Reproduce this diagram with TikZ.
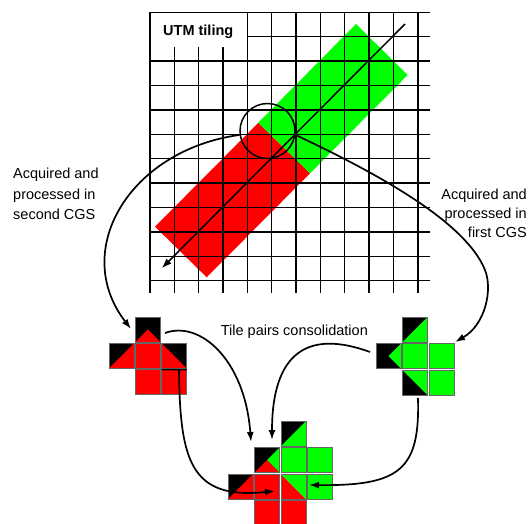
\documentclass[tikz,border=0pt]{standalone}
\usepackage{fontspec}
\setmainfont{Liberation Sans}
\usetikzlibrary{arrows.meta}
\definecolor{tred}{RGB}{255,0,0}
\definecolor{tgreen}{RGB}{0,255,0}
\newcommand{\tileat}[3]{\begin{scope}[shift={(#1,#2)}]#3\draw[tileedge] (0,0) rectangle (25,25);\end{scope}}
\newcommand{\tlRf}{\fill[tred] (0,0) rectangle (25,25);}
\newcommand{\tlGf}{\fill[tgreen] (0,0) rectangle (25,25);}
\newcommand{\tlBlk}{\fill[black] (0,0) rectangle (25,25);}
\begin{document}
\begin{tikzpicture}[x=1pt,y=-1pt,
  gridline/.style={line width=1.35pt},
  curve/.style={line width=1.7pt,-{Latex[length=10pt,width=7pt]}},
  tileedge/.style={draw=black!60,line width=0.8pt},
  lbl/.style={font=\fontsize{14.5}{20.5}\selectfont,inner sep=0pt}]
\useasboundingbox (0,0) rectangle (528,523);
\fill[white] (0,0) rectangle (528,523);
% strip
\coordinate (L) at (155,226.7);
\coordinate (T) at (356,24);
\coordinate (R) at (407.7,75);
\coordinate (B) at (206.7,277.3);
\coordinate (S1) at (258.3,122.7);
\coordinate (S2) at (310,173.3);
\fill[tred] (L) -- (S1) -- (S2) -- (B) -- cycle;
\fill[tgreen] (S1) -- (T) -- (R) -- (S2) -- cycle;
% grid
\foreach \k in {0,...,11} \draw[gridline] ({150+24.35*\k},12) -- ({150+24.35*\k},293);
\foreach \k in {0,...,11} \draw[gridline] (150,{12.3+24.4*\k}) -- (430,{12.3+24.4*\k});
% title box
\fill[white] (150.9,13) rectangle (246.5,46.5);
\node[lbl,font=\bfseries\fontsize{14.5}{17}\selectfont,anchor=north west] (title) at (163,25) {UTM tiling};
% axis
\coordinate (axtop) at (405,24);
\coordinate (axbot) at (161.7,268.3);
\draw[line width=1.5pt,-{Latex[length=10pt,width=7pt]}] (axtop) -- (axbot);
% ring
\node[draw,circle,line width=1.5pt,inner sep=0pt,minimum size=55pt] (ring) at (267.5,131) {};
\coordinate (redin) at (131,329);
\coordinate (grnin) at (455,342);
\draw[curve] (ring.188) .. controls (130,150) and (70,250) .. (redin);
\draw[curve] (ring.352) .. controls (370,170) and (465,220) .. (485,270) .. controls (493,290) and (485,325) .. (grnin);
% labels
\node[lbl,align=left,anchor=north west] (lefttxt) at (13,168) {Acquired and\\processed in\\second CGS};
\node[lbl,align=right,anchor=north east,font=\fontsize{14.5}{19}\selectfont] (righttxt) at (527,188.5) {Acquired and\\processed in\\first CGS};
\node[lbl,anchor=north west] (cons) at (220.7,325) {Tile pairs consolidation};
% red group
\tileat{135.3}{317}{\tlBlk\fill[tred] (0,25)--(12.5,12.5)--(25,25)--cycle;}
\tileat{109}{343.3}{\tlBlk\fill[tred] (0,25)--(25,0)--(25,25)--cycle;}
\tileat{135.3}{343.3}{\tlRf}
\tileat{161.6}{343.3}{\tlBlk\fill[tred] (0,0)--(25,25)--(0,25)--cycle;}
\tileat{135.3}{369.6}{\tlRf}
\tileat{161.6}{369.6}{\tlRf}
% green group
\tileat{402.5}{317}{\tlBlk\fill[tgreen] (0,25)--(25,0)--(25,25)--cycle;}
\tileat{376}{343.5}{\tlBlk\fill[tgreen] (25,0)--(12.5,12.5)--(25,25)--cycle;}
\tileat{402.5}{343.5}{\tlGf}
\tileat{429}{343.5}{\tlGf}
\tileat{402.5}{370}{\tlBlk\fill[tgreen] (0,0)--(25,0)--(25,25)--cycle;}
\tileat{429}{370}{\tlGf}
% consolidated group
\tileat{281}{421}{\tlBlk\fill[tgreen] (0,25)--(25,0)--(25,25)--cycle;}
\tileat{254.5}{447.5}{\tlBlk\fill[tgreen] (12.5,12.5)--(25,0)--(25,25)--cycle;\fill[tred] (0,25)--(12.5,12.5)--(25,25)--cycle;}
\tileat{281}{447.5}{\tlGf}
\tileat{307.5}{447.5}{\tlGf}
\tileat{228}{474}{\tlBlk\fill[tred] (0,25)--(25,0)--(25,25)--cycle;}
\tileat{254.5}{474}{\tlRf}
\tileat{281}{474}{\fill[tred] (0,0)--(25,25)--(0,25)--cycle;\fill[tgreen] (0,0)--(25,0)--(25,25)--cycle;}
\tileat{307.5}{474}{\tlGf}
\tileat{254.5}{500.5}{\tlRf}
\tileat{281}{500.5}{\tlRf}
% consolidation arrows
\coordinate (aS) at (165,333); \coordinate (aE) at (251,442);
\draw[curve] (aS) .. controls (200,320) and (245,360) .. (aE);
\coordinate (bS) at (370,352); \coordinate (bE) at (272,440);
\draw[curve] (bS) .. controls (310,330) and (272,350) .. (bE);
\coordinate (cL) at (161.6,369.6); \coordinate (cR) at (186.6,369.6);
\coordinate (cM) at (179,369.6); \coordinate (cE) at (275,491);
\draw[curve] (cL) -- (cR) (cM) .. controls (180,460) and (190,500) .. (cE);
\coordinate (dS) at (418,398); \coordinate (dE) at (309,485);
\draw[curve] (dS) .. controls (420,470) and (400,486) .. (dE);
\end{tikzpicture}
\end{document}
